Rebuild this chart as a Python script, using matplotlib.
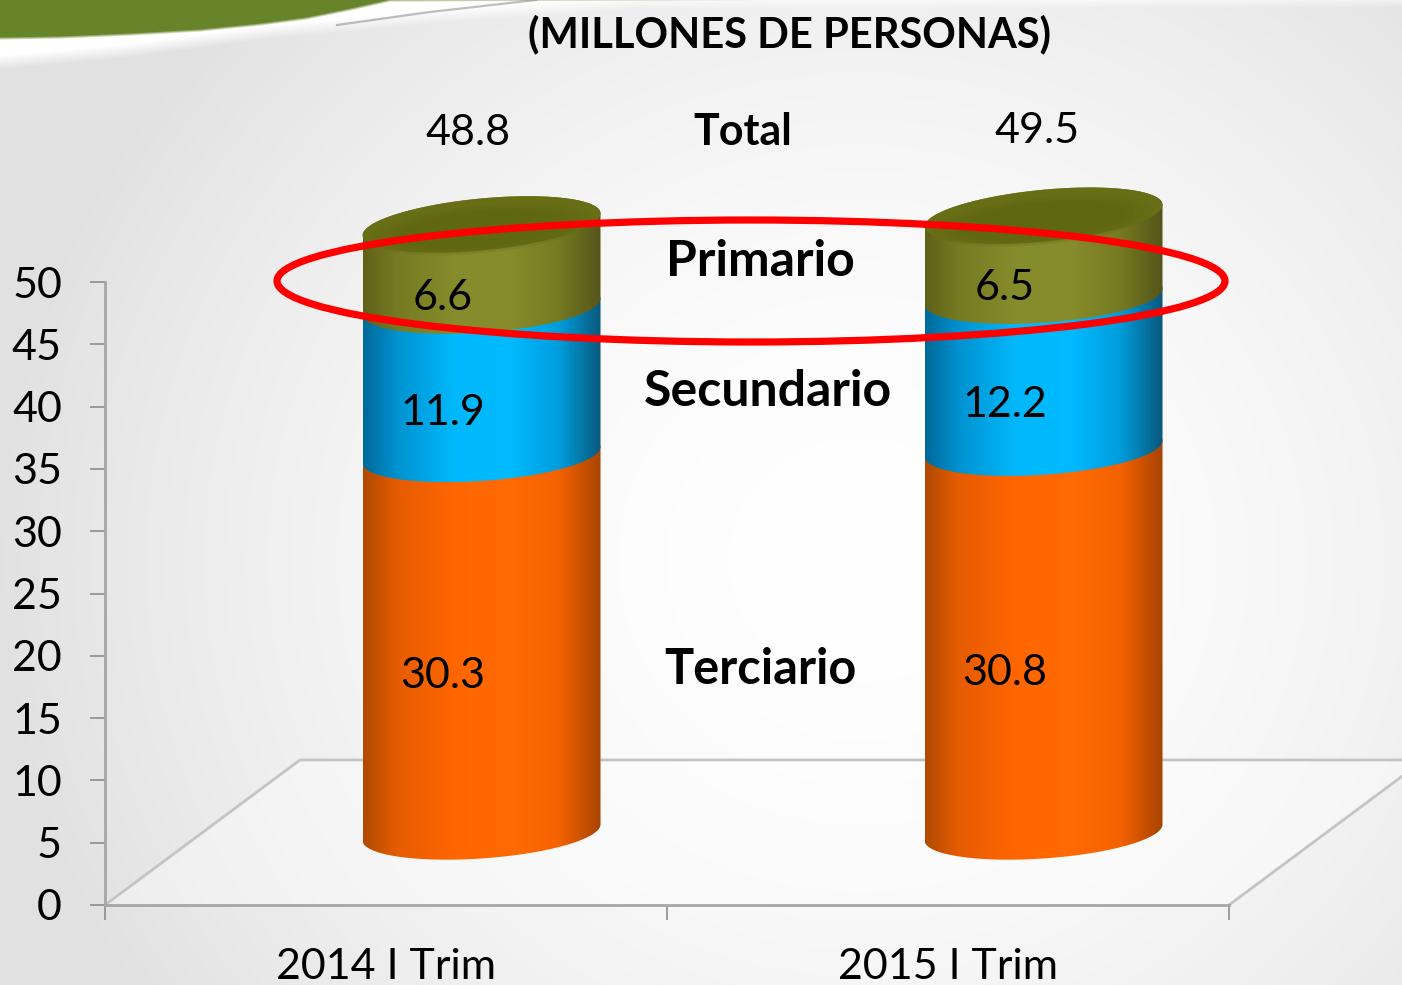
import matplotlib
matplotlib.use('Agg')
import matplotlib.pyplot as plt
from matplotlib.patches import Ellipse, Polygon
import numpy as np

plt.rcParams['font.family'] = ['Lato', 'DejaVu Sans']

# data
periods = ['2014 I Trim', '2015 I Trim']
terciario = [30.3, 30.8]
secundario = [11.9, 12.2]
primario = [6.6, 6.5]
totals = [48.8, 49.5]
sector_names = ['Total', 'Primario', 'Secundario', 'Terciario']
y_ticks = [0, 5, 10, 15, 20, 25, 30, 35, 40, 45, 50]

W, H = 1402, 985
X0, Y0 = 105, 905         # pixel position of the origin
XU, YU = 562.0, 12.46     # pixels per data unit
DEPTH_X, DEPTH_Y = 0.347, 11.64

ORANGE = ['#b04a02', '#e65c00', '#ff6600', '#ff6a02', '#f56200', '#a84400']
BLUE = ['#00699a', '#0092d0', '#00b8fb', '#00baff', '#009ddc', '#09587c']
OLIVE = ['#5f6118', '#767a22', '#868c2b', '#868c2b', '#767a22', '#55551a']

fig = plt.figure(figsize=(W / 100, H / 100), dpi=100)

# background, in pixels
bg = fig.add_axes([0, 0, 1, 1], zorder=0)
bg.set_xlim(0, W)
bg.set_ylim(H, 0)
bg.axis('off')
xx, yy = np.meshgrid(np.arange(W), np.arange(H))
dist = np.sqrt(((xx - 860) / 860.0) ** 2 + ((yy - 560) / 800.0) ** 2)
shade = 1 - 0.115 * np.clip(dist, 0, 1) ** 1.8
img = np.dstack([shade, shade, shade])

# white swoosh and green band at the top left, soft edges
col = np.arange(W)
white_low = np.interp(col, [0, 130, 268, 450, 640, W], [62, 50, 32, 15, 2, 0])
green_low = np.interp(col, [0, 60, 130, 200, 260, 306, 350, 390, W], [38, 37, 34, 30, 24, 18, 9, 0, -4])
w_mask = np.clip((white_low[None, :] - yy) / 14.0 + 0.5, 0, 1)[:, :, None]
g_mask = np.clip((green_low[None, :] - yy) / 3.0 + 0.5, 0, 1)[:, :, None]
img = img * (1 - w_mask) + w_mask
img = img * (1 - g_mask) + g_mask * np.array(matplotlib.colors.to_rgb('#67842a'))
bg.imshow(img, extent=(0, W, H, 0), aspect='auto')
bg.plot([337, 430, 536], [25, 12, 0], color='#8a8a8a', lw=1.6, alpha=0.55)

# main axes cover the whole figure, data scale set by the origin
ax = fig.add_axes([0, 0, 1, 1], zorder=1)
ax.patch.set_alpha(0)
ax.set_xlim(-X0 / XU, (W - X0) / XU)
ax.set_ylim(-(H - Y0) / YU, Y0 / YU)

for s in ['top', 'right']:
    ax.spines[s].set_visible(False)
for s in ['left', 'bottom']:
    ax.spines[s].set_position(('data', 0))
    ax.spines[s].set_color('#a6a6a6')
    ax.spines[s].set_linewidth(2)
ax.spines['left'].set_bounds(0, 50)
ax.spines['bottom'].set_bounds(0, 2)

ax.set_yticks(y_ticks)
ax.tick_params(axis='y', direction='out', length=11, width=1.2, color='#8c8c8c',
               labelsize=31, pad=20, labelcolor='black')
ax.set_xticks([0, 1, 2])
ax.set_xticklabels([])
ax.set_xticks([0.5, 1.5], minor=True)
ax.set_xticklabels(periods, minor=True)
ax.tick_params(axis='x', which='major', direction='out', length=11, width=1.2, color='#8c8c8c')
ax.tick_params(axis='x', which='minor', length=0, labelsize=31, pad=31)

# floor of the 3d box
ax.add_patch(Polygon([(0, 0), (DEPTH_X, DEPTH_Y), (2 + DEPTH_X, DEPTH_Y), (2, 0)],
                     closed=True, fc='white', alpha=0.4, ec='none', zorder=0.5))
ax.plot([0, DEPTH_X, 2 + DEPTH_X, 2], [0, DEPTH_Y, DEPTH_Y, 0], color='#c4c4c4', lw=2, zorder=0.6)

BAR_A = 119 / XU
BAR_B = 26 / YU
BODY_TILT = 8 / YU
CAP_TILT = 11 / YU


def ring(cx, level, t, tilt=BODY_TILT, scale=1.0):
    return (cx + scale * BAR_A * np.cos(t),
            level + DEPTH_Y / 2 + scale * BAR_B * np.sin(t) + scale * tilt * np.cos(t))


def shaded_shape(pts, cx, colors, z):
    # horizontal gradient, clipped to the cylinder piece
    rgb = np.array([matplotlib.colors.to_rgb(c) for c in colors])
    stops = [0, 0.14, 0.38, 0.62, 0.82, 1]
    u = np.linspace(0, 1, 240)
    grad = np.stack([np.interp(u, stops, rgb[:, k]) for k in range(3)], axis=1)[None, :, :]
    ys = pts[:, 1]
    im = ax.imshow(grad, extent=(cx - BAR_A, cx + BAR_A, ys.min(), ys.max()),
                   aspect='auto', zorder=z, interpolation='bilinear')
    clip = Polygon(pts, closed=True, transform=ax.transData)
    im.set_clip_path(clip)


front = np.linspace(np.pi, 2 * np.pi, 80)   # left to right, along the near side
back = np.linspace(0, np.pi, 80)            # right to left, along the far side
full = np.linspace(0, 2 * np.pi, 160)

for i in range(len(periods)):
    cx = i + 0.5 + DEPTH_X / 2 - 2 / XU
    levels = [0, terciario[i], terciario[i] + secundario[i],
              terciario[i] + secundario[i] + primario[i]]
    for k, colors in enumerate([ORANGE, BLUE, OLIVE]):
        lowx, lowy = ring(cx, levels[k], front)
        upx, upy = ring(cx, levels[k + 1], back, tilt=CAP_TILT if k == 2 else BODY_TILT)
        pts = np.column_stack([np.r_[lowx, upx], np.r_[lowy, upy]])
        shaded_shape(pts, cx, colors, 2 + k * 0.1)
    capx, capy = ring(cx, levels[3], full, tilt=CAP_TILT)
    ax.fill(capx, capy, color='#686e16', zorder=2.5, lw=0)
    # cap gets darker towards its middle
    for sc in [0.92, 0.84, 0.76, 0.68]:
        capx, capy = ring(cx, levels[3] - 0.4, full, tilt=CAP_TILT, scale=sc)
        ax.fill(capx, capy, color='#5c6410', alpha=0.18, zorder=2.6, lw=0)

    # value labels sit a little left of the bar middle and low in the segment
    vals = [terciario[i], secundario[i], primario[i]]
    for k, v in enumerate(vals):
        mid = levels[k] + v / 2 + DEPTH_Y / 2 - 32 / YU
        ax.text(cx - 39 / XU, mid, '%.1f' % v, fontsize=31, ha='center', va='center', zorder=4)

ax.set_xlim(-X0 / XU, (W - X0) / XU)
ax.set_ylim(-(H - Y0) / YU, Y0 / YU)

# annotations placed in pixels
bg_tr = bg.transData
ax.add_patch(Ellipse((751, 281), 948, 122, fc='none', ec='#ff0000', lw=5.2,
                     transform=bg_tr, zorder=5))
ax.text(789, 34, '(MILLONES DE PERSONAS)', transform=bg_tr, fontsize=30, fontweight='bold',
        ha='center', va='center')
sector_pos = [(743, 132), (760, 261), (768, 391), (760, 670)]
sector_size = [31, 36, 36, 35]
for name, (px, py), fs in zip(sector_names, sector_pos, sector_size):
    ax.text(px, py, name, transform=bg_tr, fontsize=fs, fontweight='bold',
            ha='center', va='center', zorder=6)
for v, (px, py) in zip(totals, [(468, 133), (1037, 131)]):
    ax.text(px, py, '%.1f' % v, transform=bg_tr, fontsize=31, ha='center', va='center')

fig.savefig('out.png', dpi=100)
